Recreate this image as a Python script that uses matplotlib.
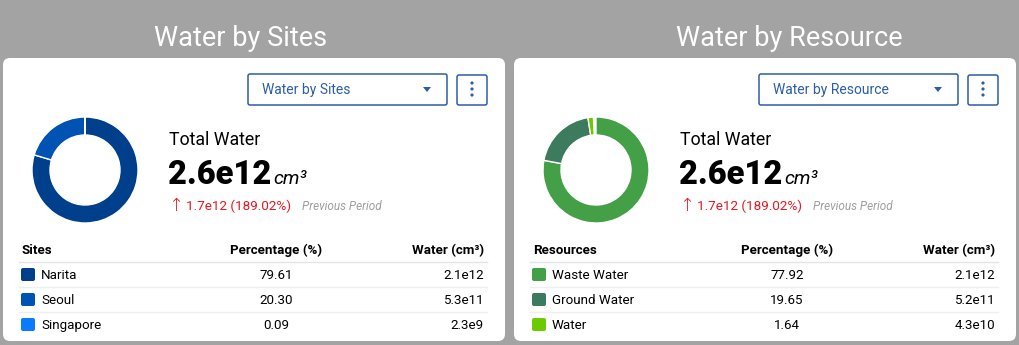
import matplotlib as mpl
import matplotlib.pyplot as plt
from matplotlib.patches import FancyBboxPatch, Polygon, Circle
from matplotlib import font_manager

mpl.rcParams['font.family'] = ['Roboto', 'DejaVu Sans']

names = {f.name for f in font_manager.fontManager.ttflist}
if 'Liberation Sans Narrow' in names:
    title_kw = dict(family='Liberation Sans Narrow', fontsize=22)
else:
    title_kw = dict(family='Roboto', fontsize=19.5)

#-- data
panel_titles = ['Water by Sites', 'Water by Resource']
col_heads = ['Sites', 'Resources']
site_names = ['Narita', 'Seoul', 'Singapore']
site_pct = [79.61, 20.30, 0.09]
site_water = ['2.1e12', '5.3e11', '2.3e9']
site_colors = ['#003f8c', '#0053b3', '#0a7bff']
res_names = ['Waste Water', 'Ground Water', 'Water']
res_pct = [77.92, 19.65, 1.64]
res_water = ['2.1e12', '5.2e11', '4.3e10']
res_colors = ['#43a047', '#3c7b5d', '#6ccb00']
total = '2.6e12'
delta = '1.7e12 (189.02%)'

W, H = 1019, 345
fig = plt.figure(figsize=(W/100, H/100), dpi=100)
fig.patch.set_facecolor('#a3a3a3')
ax = fig.add_axes([0, 0, 1, 1])
ax.set_xlim(0, W)
ax.set_ylim(H, 0)
ax.axis('off')

blue = '#2b5ea6'
red = '#e8171f'
panels = [
    (0, panel_titles[0], col_heads[0], site_names, site_pct, site_water, site_colors),
    (511, panel_titles[1], col_heads[1], res_names, res_pct, res_water, res_colors),
]

for x0, title, head, labels, pct, water, colors in panels:
    ax.text(x0 + 241 + (37 if x0 else 0), 46, title, color='white',
            ha='center', va='baseline', **title_kw)
    ax.add_patch(FancyBboxPatch((x0 + 3, 58), 502, 283,
                                boxstyle='round,pad=0,rounding_size=7',
                                fc='white', ec='none'))
    # dropdown + kebab
    ax.add_patch(FancyBboxPatch((x0 + 248, 74), 199, 31,
                                boxstyle='round,pad=0,rounding_size=2',
                                fc='white', ec=blue, lw=1.1))
    ax.text(x0 + 262, 94, title, color=blue, fontsize=10, va='baseline')
    ax.add_patch(Polygon([[x0 + 423, 87], [x0 + 431, 87], [x0 + 427, 92]],
                         closed=True, fc=blue, ec='none'))
    ax.add_patch(FancyBboxPatch((x0 + 457, 75), 30, 30,
                                boxstyle='round,pad=0,rounding_size=2',
                                fc='white', ec=blue, lw=1.1))
    for dy in (83, 89, 95):
        ax.add_patch(Circle((x0 + 472, dy), 1.6, fc=blue, ec='none'))

    # donut
    dax = fig.add_axes([(x0 + 85 - 53)/W, (H - 170 - 53)/H, 106/W, 106/H])
    dax.pie([p/100 for p in pct], colors=colors, startangle=90, counterclock=False,
            normalize=False, radius=1,
            wedgeprops=dict(width=18/53, edgecolor='white', linewidth=1))
    dax.set_xlim(-1, 1)
    dax.set_ylim(-1, 1)
    dax.axis('off')

    # KPI
    ax.text(x0 + 169, 145, 'Total Water', fontsize=12.8, va='baseline')
    ax.text(x0 + 168, 184, total, fontsize=23.5, weight='heavy', va='baseline')
    ax.text(x0 + 273, 184, 'cm³', fontsize=14, style='italic', va='baseline')
    ax.text(x0 + 168, 211, '↑', fontsize=13, color=red, va='baseline',
            family='DejaVu Sans', weight='light')
    ax.text(x0 + 186, 210, delta, fontsize=9.7, color=red, va='baseline')
    ax.text(x0 + 302, 210, 'Previous Period', fontsize=8.5, color='#9e9e9e',
            style='italic', va='baseline')

    # table
    ax.text(x0 + 22, 254, head, fontsize=9.6, weight='bold', va='baseline')
    ax.text(x0 + 276, 254, 'Percentage (%)', fontsize=9.6, weight='bold',
            ha='center', va='baseline')
    ax.text(x0 + 484, 254, 'Water (cm³)', fontsize=9.6, weight='bold',
            ha='right', va='baseline')
    ax.plot([x0 + 19, x0 + 487], [262, 262], color='#e4e4e4', lw=1)
    for i, (lab, p, w, c) in enumerate(zip(labels, pct, water, colors)):
        yb = 279 + 25 * i
        ax.add_patch(FancyBboxPatch((x0 + 21, yb - 11), 14, 13,
                                    boxstyle='round,pad=0,rounding_size=2',
                                    fc=c, ec='none'))
        ax.text(x0 + 41, yb, lab, fontsize=9.6, va='baseline')
        ax.text(x0 + 276, yb, f'{p:.2f}', fontsize=9.6, ha='center', va='baseline')
        ax.text(x0 + 484, yb, w, fontsize=9.6, ha='right', va='baseline')
        if i < len(labels) - 1:
            ax.plot([x0 + 19, x0 + 487], [yb + 8, yb + 8], color='#efefef', lw=1)

fig.savefig('out.png', dpi=100, facecolor=fig.get_facecolor())
